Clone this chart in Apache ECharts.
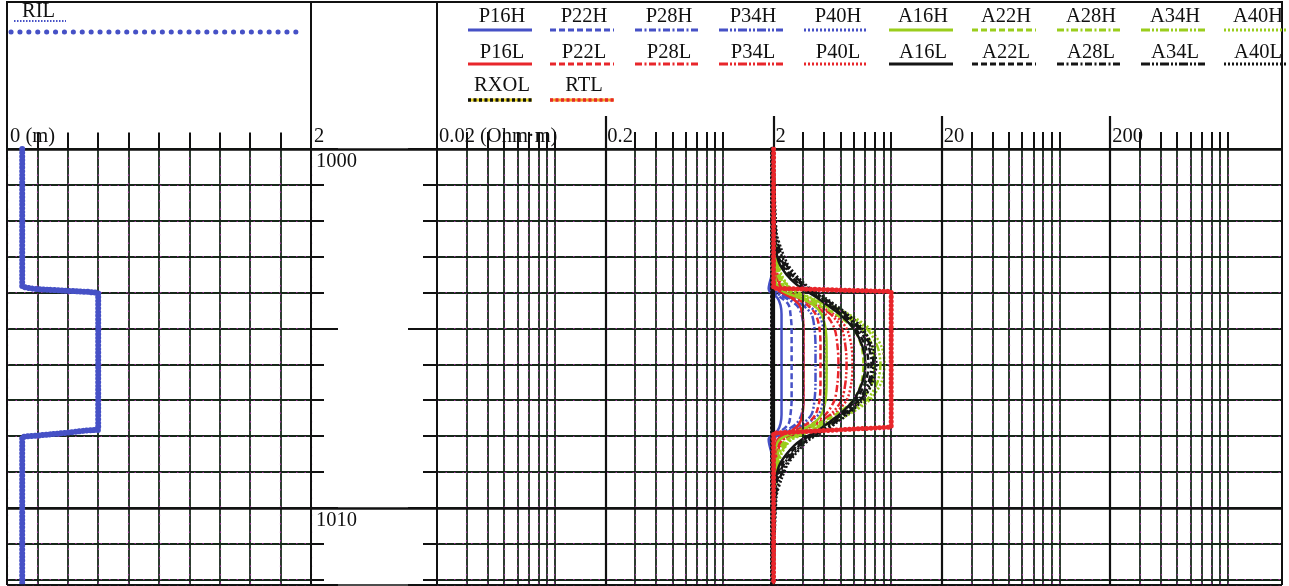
<!DOCTYPE html>
<html><head><meta charset="utf-8">
<script src="https://cdn.jsdelivr.net/npm/echarts@6/dist/echarts.min.js"></script>
<style>html,body{margin:0;padding:0;background:#fff}#c{width:1289px;height:586px}</style>
</head><body><div id="c"></div>
<script>
// ---------------- data ----------------
const DEPTH = [1000, 1002.3, 1002.8, 1003.2, 1003.5, 1003.75, 1003.9, 1004.0, 1004.15, 1004.35, 1004.6, 1005.0, 1005.5, 1006.0, 1006.5, 1007.0, 1007.4, 1007.65, 1007.85, 1008.0, 1008.1, 1008.25, 1008.5, 1008.8, 1009.2, 1009.7, 1012.15];
const P16H = [2,2,2,1.97,1.95,1.89,1.87,1.92,2.11,2.2,2.23,2.23,2.23,2.23,2.23,2.23,2.23,2.2,2.11,1.92,1.87,1.89,1.95,1.97,2,2,2];
const P22H = [2,2,2,1.97,1.95,1.92,1.89,1.97,2.23,2.46,2.52,2.56,2.56,2.56,2.56,2.56,2.52,2.46,2.23,1.97,1.89,1.92,1.95,1.97,2,2,2];
const P28H = [2,2,2,2,1.97,1.95,1.92,2.03,2.36,2.74,2.93,3.01,3.01,3.01,3.01,3.01,2.93,2.74,2.36,2.03,1.92,1.95,1.97,2,2,2,2];
const P34H = [2,2,2,2,1.97,1.95,1.95,2.08,2.46,2.97,3.36,3.5,3.55,3.55,3.55,3.5,3.36,2.97,2.46,2.08,1.95,1.95,1.97,2,2,2,2];
const P40H = [2,2,2,2,2,1.97,1.97,2.14,2.56,3.14,3.7,3.96,4.07,4.13,4.07,3.96,3.7,3.14,2.56,2.14,1.97,1.97,2,2,2,2,2];
const P16L = [2,2,2,2,2.03,2.06,2.11,2.23,2.56,2.85,2.97,3.01,3.01,3.01,3.01,3.01,2.97,2.85,2.56,2.23,2.11,2.06,2.03,2,2,2,2];
const P22L = [2,2,2,2.03,2.06,2.11,2.17,2.32,2.7,3.18,3.55,3.75,3.8,3.8,3.8,3.75,3.55,3.18,2.7,2.32,2.17,2.11,2.06,2.03,2,2,2];
const P28L = [2,2,2.03,2.06,2.08,2.14,2.23,2.42,2.81,3.41,4.07,4.6,4.8,4.86,4.8,4.6,4.07,3.41,2.81,2.42,2.23,2.14,2.08,2.06,2.03,2,2];
const P34L = [2,2,2.03,2.06,2.11,2.17,2.26,2.46,2.89,3.55,4.36,5.07,5.35,5.43,5.35,5.07,4.36,3.55,2.89,2.46,2.26,2.17,2.11,2.06,2.03,2,2];
const P40L = [2,2,2.03,2.06,2.11,2.2,2.29,2.49,2.93,3.65,4.54,5.43,5.81,5.89,5.81,5.43,4.54,3.65,2.93,2.49,2.29,2.2,2.11,2.06,2.03,2,2];
const A16H = [2,2,2,2,2.03,2.08,2.17,2.36,2.85,3.45,3.85,4.07,4.13,4.13,4.13,4.07,3.85,3.45,2.85,2.36,2.17,2.08,2.03,2,2,2,2];
const A22H = [2,2,2.03,2.06,2.11,2.23,2.39,2.59,3.01,3.7,4.67,5.97,6.66,6.84,6.66,5.97,4.67,3.7,3.01,2.59,2.39,2.23,2.11,2.06,2.03,2,2];
const A28H = [2,2,2.03,2.08,2.17,2.29,2.46,2.7,3.18,3.96,5.07,6.66,7.74,7.95,7.74,6.66,5.07,3.96,3.18,2.7,2.46,2.29,2.17,2.08,2.03,2,2];
const A34H = [2,2.03,2.06,2.11,2.2,2.36,2.52,2.78,3.27,4.13,5.35,7.13,8.28,8.63,8.28,7.13,5.35,4.13,3.27,2.78,2.52,2.36,2.2,2.11,2.06,2.03,2];
const A40H = [2,2.03,2.06,2.14,2.23,2.39,2.56,2.85,3.36,4.3,5.58,7.43,8.75,9.12,8.75,7.43,5.58,4.3,3.36,2.85,2.56,2.39,2.23,2.14,2.06,2.03,2];
const A16L = [2,2,2.06,2.17,2.39,2.7,2.97,3.23,3.65,4.18,4.93,5.97,6.75,7.03,6.75,5.97,4.93,4.18,3.65,3.18,2.93,2.67,2.39,2.17,2.06,2,2];
const A22L = [2,2.03,2.08,2.23,2.49,2.81,3.05,3.32,3.75,4.3,5.07,6.14,7.03,7.33,7.03,6.14,5.07,4.3,3.75,3.27,3.01,2.78,2.49,2.23,2.08,2.03,2];
const A28L = [2,2.03,2.11,2.29,2.56,2.89,3.14,3.41,3.85,4.42,5.21,6.39,7.33,7.63,7.33,6.39,5.21,4.42,3.85,3.36,3.1,2.85,2.56,2.29,2.11,2.03,2];
const A34L = [2,2.06,2.17,2.36,2.63,2.97,3.23,3.5,3.96,4.54,5.35,6.57,7.53,7.84,7.53,6.57,5.35,4.54,3.96,3.45,3.18,2.93,2.63,2.36,2.17,2.06,2];
const A40L = [2,2.08,2.23,2.42,2.7,3.05,3.32,3.6,4.07,4.67,5.5,6.75,7.74,8.17,7.74,6.75,5.5,4.67,4.07,3.55,3.27,3.01,2.7,2.42,2.23,2.08,2];

const RTL_DEPTH = [1000, 1003.88, 1003.97, 1007.75, 1007.92, 1012.15];
const RTL = [2, 2, 10, 10, 2, 2];
const RXOL_DEPTH = [1000, 1012.15];
const RXOL = [1.97, 1.97];
const RIL_DEPTH = [1000, 1003.84, 1003.9, 1003.95, 1003.98, 1004.01, 1007.83, 1007.84, 1007.91, 1007.99, 1008.02, 1012.15];
const RIL = [0.1, 0.1, 0.18, 0.39, 0.53, 0.6, 0.6, 0.53, 0.39, 0.19, 0.1, 0.1];

const RIL_TICKS = [0.2, 0.4, 0.6, 0.8, 1.0, 1.2, 1.4, 1.6, 1.8];
const RES_MINOR = [0.03,0.04,0.05,0.06,0.07,0.08,0.09,0.1, 0.3,0.4,0.5,0.6,0.7,0.8,0.9,1, 3,4,5,6,7,8,9,10, 30,40,50,60,70,80,90,100, 300,400,500,600,700,800,900,1000];
const RES_MAJOR = [0.2, 2, 20, 200];
const RES_LABEL_VALUES = [0.02, 0.2, 2, 20, 200];
const RES_LABELS = ['0.02 (Ohm·m)', '0.2', '2', '20', '200'];
const RIL_LABEL_VALUES = [0, 2];
const RIL_LABELS = ['0 (m)', '2'];
const DEPTH_LABELS = [1000, 1010];
const MAJOR_DEPTHS = [1000, 1010];

const LEGEND_ROWS = [
  ['P16H','P22H','P28H','P34H','P40H','A16H','A22H','A28H','A34H','A40H'],
  ['P16L','P22L','P28L','P34L','P40L','A16L','A22L','A28L','A34L','A40L'],
  ['RXOL','RTL']
];

// ---------------- styles / layout ----------------
const BLUE = '#4651c6', RED = '#e8262b', GREEN = '#9acd1c', BLACK = '#151515';
const DASH = {'16':'solid', '22':[6,3], '28':[7,2.5,2,2.5], '34':[9,2,2,2,2,2], '40':[2,2]};
const FAMILY = {P_H: BLUE, P_L: RED, A_H: GREEN, A_L: BLACK};
const CURVES = {P16H,P22H,P28H,P34H,P40H,P16L,P22L,P28L,P34L,P40L,A16H,A22H,A28H,A34H,A40H,A16L,A22L,A28L,A34L,A40L};
const DRAW_ORDER = ['P16H','P22H','P28H','P34H','P40H','P16L','P22L','P28L','P34L','P40L','A16H','A22H','A28H','A34H','A40H','A16L','A22L','A28L','A34L','A40L'];
function curveColor(n){ return FAMILY[n[0] + '_' + n[3]]; }
function curveDash(n){ return DASH[n.slice(1,3)]; }

const TOP = 149, H = 436, BOTTOM = TOP + H;
const GRID_LINE = '#17271a', MAG = 'rgba(170,50,170,0.85)';
const FONT = '20.5px "Liberation Serif", "DejaVu Serif", serif';

const pair = (xs, ds) => xs.map((v, i) => [v, ds[i]]);
const hidden = {axisLine:{show:false,onZero:false}, axisTick:{show:false}, axisLabel:{show:false}, splitLine:{show:false}};
const depthAxis = (grid, extra) => Object.assign({type:'value', gridIndex:grid, min:1000, max:1012.15, inverse:true}, hidden, extra || {});

const chart = echarts.init(document.getElementById('c'), null, {renderer:'canvas'});

const grids = [
  {left:7, top:TOP, width:304, height:H},       // 0 RIL track
  {left:311, top:TOP, width:126, height:H},     // 1 depth track
  {left:437, top:TOP, width:845, height:H},     // 2 resistivity track
  {left:7, top:116, width:304, height:33},      // 3 RIL ruler
  {left:437, top:116, width:845, height:33}     // 4 resistivity ruler
];

const xAxes = [
  Object.assign({type:'value', gridIndex:0, min:0, max:2, interval:0.2}, hidden, {splitLine:{show:true, lineStyle:{color:GRID_LINE, width:1.8}}}),
  Object.assign({type:'value', gridIndex:1, min:0, max:1}, hidden),
  Object.assign({type:'log', logBase:10, gridIndex:2, min:0.02, max:2100}, hidden),
  Object.assign({type:'value', gridIndex:3, min:0, max:2}, hidden),
  Object.assign({type:'log', logBase:10, gridIndex:4, min:0.02, max:2100}, hidden),
  Object.assign({type:'value', gridIndex:0, min:0, max:2, interval:0.2, position:'top'}, hidden, {splitLine:{show:true, lineStyle:{color:MAG, width:1.2, type:[1.5,7]}}})
];

const yAxes = [
  depthAxis(0, {interval:1, splitLine:{show:true, lineStyle:{color:GRID_LINE, width:1.8}}}),                                  // 0
  depthAxis(1, {interval:1, position:'left', axisTick:{show:true, inside:true, length:13, lineStyle:{color:'#111', width:2}}}), // 1
  depthAxis(1, {interval:1, position:'right', axisTick:{show:true, inside:true, length:14, lineStyle:{color:'#111', width:2}}}),// 2
  depthAxis(2, {interval:1, splitLine:{show:true, lineStyle:{color:GRID_LINE, width:1.8}}}),                                  // 3
  Object.assign({type:'value', gridIndex:3, min:0, max:33}, hidden),                                                          // 4
  Object.assign({type:'value', gridIndex:4, min:0, max:33}, hidden),                                                          // 5
  depthAxis(0, {interval:1, position:'right', splitLine:{show:true, lineStyle:{color:MAG, width:1.2, type:[1.5,7]}}}),        // 6
  depthAxis(2, {interval:1, position:'right', splitLine:{show:true, lineStyle:{color:MAG, width:1.2, type:[1.5,7]}}}),        // 7
  depthAxis(1, {interval:5, position:'left', axisTick:{show:true, inside:true, length:27, lineStyle:{color:'#111', width:2}}}), // 8
  depthAxis(1, {interval:5, position:'right', axisTick:{show:true, inside:true, length:29, lineStyle:{color:'#111', width:2}}})// 9
];

function dummy(xi, yi, ml, z){
  return {type:'line', xAxisIndex:xi, yAxisIndex:yi, data:[], z:z||1, silent:true, animation:false,
    markLine:Object.assign({symbol:'none', silent:true, animation:false, label:{show:false}}, ml)};
}
const tickPairs = (vals, h) => vals.map(v => [{coord:[v, 0]}, {coord:[v, h]}]);

const series = [];
// grid lines of resistivity track
series.push(dummy(2, 3, {lineStyle:{color:GRID_LINE, width:1.8, type:'solid'}, data:RES_MINOR.map(v => ({xAxis:v}))}, 1));
series.push(dummy(2, 3, {lineStyle:{color:MAG, width:1.2, type:[1.5,7]}, data:RES_MINOR.map(v => ({xAxis:v}))}, 1));
series.push(dummy(2, 3, {lineStyle:{color:'#111', width:2.2, type:'solid'}, data:RES_MAJOR.map(v => ({xAxis:v}))}, 2));
// major depth lines in all three tracks
[[0,0],[1,1],[2,3]].forEach(([xi, yi]) => series.push(dummy(xi, yi, {lineStyle:{color:'#111', width:2.5, type:'solid'}, data:MAJOR_DEPTHS.map(v => ({yAxis:v}))}, 2)));
// header rulers
series.push(dummy(3, 4, {lineStyle:{color:'#111', width:2, type:'solid'}, data:tickPairs(RIL_TICKS, 16.5)}, 2));
series.push(dummy(4, 5, {lineStyle:{color:'#111', width:2, type:'solid'}, data:tickPairs(RES_MINOR, 17)}, 2));
series.push(dummy(4, 5, {lineStyle:{color:'#111', width:2.2, type:'solid'}, data:tickPairs(RES_MAJOR, 33)}, 2));

// RIL
series.push({type:'line', name:'RIL', xAxisIndex:0, yAxisIndex:0, data:pair(RIL, RIL_DEPTH), showSymbol:false, animation:false, z:6,
  lineStyle:{color:BLUE, width:6, type:[0.1,3.6], cap:'round', join:'round'}});

// resistivity curves
DRAW_ORDER.forEach((n, i) => {
  series.push({type:'line', name:n, xAxisIndex:2, yAxisIndex:3, data:pair(CURVES[n], DEPTH), showSymbol:false, smooth:0.3,
    animation:false, z:4 + i * 0.01, lineStyle:{color:curveColor(n), width:2.5, type:curveDash(n)}});
});
// RXOL
series.push({type:'line', name:'RXOL_base', xAxisIndex:2, yAxisIndex:3, data:pair(RXOL, RXOL_DEPTH), showSymbol:false, animation:false, z:7,
  lineStyle:{color:'#e6d21e', width:2}});
series.push({type:'line', name:'RXOL', xAxisIndex:2, yAxisIndex:3, data:pair(RXOL, RXOL_DEPTH), showSymbol:false, animation:false, z:7.1,
  lineStyle:{color:'#111', width:5, type:[0.1,4], cap:'round'}});
// RTL
series.push({type:'line', name:'RTL_base', xAxisIndex:2, yAxisIndex:3, data:pair(RTL, RTL_DEPTH), showSymbol:false, animation:false, z:8,
  lineStyle:{color:RED, width:2.2}});
series.push({type:'line', name:'RTL', xAxisIndex:2, yAxisIndex:3, data:pair(RTL, RTL_DEPTH), showSymbol:false, animation:false, z:8.1,
  lineStyle:{color:RED, width:5, type:[0.1,4.2], cap:'round'}});

chart.setOption({animation:false, grid:grids, xAxis:xAxes, yAxis:yAxes, series:series});

// ---------------- decorations (frame, labels, legend) ----------------
const g = [];
const lineEl = (x1, y1, x2, y2, style, z) => ({type:'line', silent:true, z:z || 50, shape:{x1, y1, x2, y2},
  style:Object.assign({stroke:'#111', lineWidth:1}, style)});
const textEl = (x, y, text, align) => ({type:'text', silent:true, z:60, x, y,
  style:{text, font:FONT, fill:'#111', align:align || 'left', verticalAlign:'middle'}});

// frame
g.push(lineEl(6, 2, 1282, 2, {lineWidth:2}));
[7, 311, 437, 1282].forEach(x => g.push(lineEl(x, 1, x, BOTTOM, {lineWidth:2})));
g.push(lineEl(7, BOTTOM, 1282, BOTTOM, {lineWidth:1.5}));

// axis labels
RIL_LABEL_VALUES.forEach((v, i) => {
  const p = chart.convertToPixel({gridIndex:3}, [v, 0]);
  g.push(textEl(p[0] + 3, 137, RIL_LABELS[i]));
});
RES_LABEL_VALUES.forEach((v, i) => {
  const p = chart.convertToPixel({gridIndex:4}, [v, 0]);
  g.push(textEl(p[0] + 2, 137, RES_LABELS[i]));
});
DEPTH_LABELS.forEach(d => {
  const p = chart.convertToPixel({gridIndex:1}, [0, d]);
  g.push(textEl(p[0] + 5, p[1] + 13, String(d)));
});

// RIL header
g.push(textEl(22, 12, 'RIL'));
g.push(lineEl(14, 21, 66, 21, {stroke:BLUE, lineWidth:2.2, lineDash:[1.5,1.5]}));
g.push(lineEl(11, 32, 301, 32, {stroke:BLUE, lineWidth:5, lineDash:[0.1,8.8], lineCap:'round'}));

// resistivity legend
const COL_X = [500, 582, 667, 751, 836, 921, 1004, 1089, 1173, 1256];
const ROW_TEXT_Y = [17, 53, 86];
const ROW_LINE_Y = [30, 64, 100];
LEGEND_ROWS.forEach((row, r) => row.forEach((n, c) => {
  const cx = COL_X[c], y = ROW_LINE_Y[r];
  g.push(textEl(cx + 2, ROW_TEXT_Y[r], n, 'center'));
  if (n === 'RXOL') {
    g.push(lineEl(cx - 32, y, cx + 32, y, {stroke:'#e6d21e', lineWidth:3}));
    g.push(lineEl(cx - 32, y, cx + 32, y, {stroke:'#111', lineWidth:3.5, lineDash:[3,2.5]}));
  } else if (n === 'RTL') {
    g.push(lineEl(cx - 32, y, cx + 32, y, {stroke:'#f2a020', lineWidth:3}));
    g.push(lineEl(cx - 32, y, cx + 32, y, {stroke:RED, lineWidth:3.5, lineDash:[3,2.5]}));
  } else {
    const d = curveDash(n);
    g.push(lineEl(cx - 32, y, cx + 32, y, {stroke:curveColor(n), lineWidth:3, lineDash:d === 'solid' ? null : d}));
  }
}));

chart.setOption({graphic:{elements:g}});
</script></body></html>
